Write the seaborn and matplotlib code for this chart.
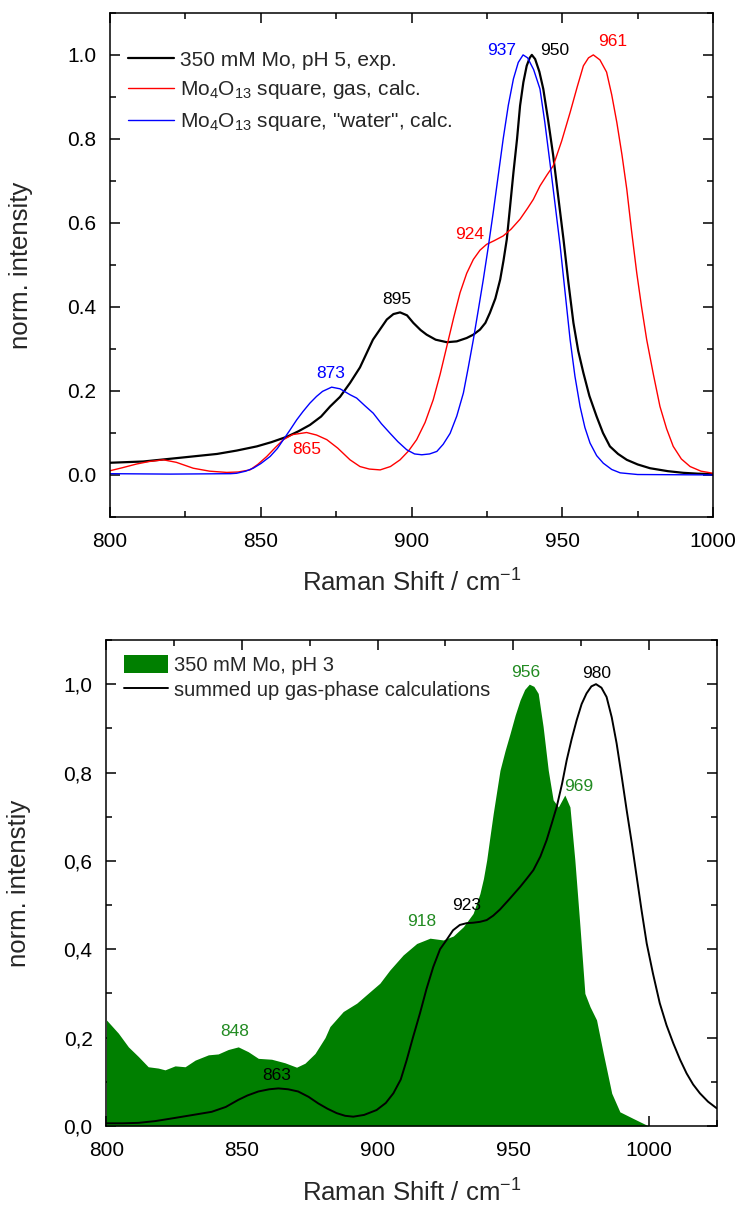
import matplotlib
matplotlib.use("Agg")
import matplotlib.pyplot as plt
from matplotlib.ticker import MultipleLocator, FuncFormatter
import pandas as pd
import seaborn as sns

# --- top panel: pH 5 experiment vs. Mo4O13 calculations ---
exp5_x = [800, 811, 822, 835.5, 842, 848.7, 853.5, 858.7, 862.5, 866.3, 870, 873, 876.3, 879.6,
          882.9, 887.2, 891.8, 894, 896.2, 898.5, 900.6, 903, 905, 908, 911.7, 915, 918.3, 920.5,
          922.7, 924.5, 926, 927.8, 929.4, 930.5, 931.6, 932.7, 933.8, 935, 936, 937.1, 938.2,
          939.2, 939.9, 941, 942.4, 943.7, 945.3, 947, 948.7, 950.4, 952, 953.7, 955.3, 957, 959,
          961.4, 963.5, 965.8, 968.5, 971.4, 975, 979.1, 985, 990.2, 995, 1000]
exp5_y = [0.029, 0.032, 0.040, 0.050, 0.058, 0.068, 0.078, 0.091, 0.104, 0.119, 0.139, 0.163, 0.186,
          0.219, 0.256, 0.322, 0.370, 0.383, 0.387, 0.380, 0.362, 0.345, 0.334, 0.322, 0.316, 0.318,
          0.326, 0.334, 0.346, 0.362, 0.386, 0.420, 0.465, 0.510, 0.561, 0.640, 0.720, 0.800, 0.879,
          0.935, 0.974, 0.993, 1.0, 0.990, 0.960, 0.919, 0.845, 0.760, 0.660, 0.561, 0.460, 0.362,
          0.295, 0.243, 0.188, 0.139, 0.100, 0.068, 0.050, 0.036, 0.025, 0.016, 0.009, 0.005, 0.003,
          0.002]

water_x = [800, 820, 840, 842, 845, 847.5, 850, 853.1, 855.5, 857.5, 859.7, 861.9, 864, 866.3, 868.5,
           870.5, 873.5, 876.3, 879.6, 881.8, 884.5, 887.3, 890, 892.9, 895.5, 898.4, 901, 903.4, 906,
           908.4, 910.5, 912.8, 915, 917.2, 918.8, 920.5, 922.2, 923.8, 925.5, 927.1, 928.8, 930.4,
           932.1, 933.8, 935.4, 937, 938.5, 940.5, 942.6, 944.2, 945.9, 947.6, 949.3, 951, 952.6,
           954.2, 955.9, 957.5, 959.2, 961.4, 963.6, 966.4, 969.2, 975, 1000]
water_y = [0.003, 0.002, 0.003, 0.004, 0.009, 0.016, 0.027, 0.044, 0.063, 0.084, 0.107, 0.131, 0.151,
           0.171, 0.187, 0.199, 0.209, 0.205, 0.191, 0.183, 0.165, 0.147, 0.122, 0.099, 0.079, 0.060,
           0.050, 0.048, 0.050, 0.056, 0.073, 0.099, 0.140, 0.195, 0.255, 0.322, 0.395, 0.465, 0.545,
           0.625, 0.715, 0.800, 0.880, 0.943, 0.982, 1.0, 0.993, 0.965, 0.919, 0.840, 0.744, 0.645,
           0.545, 0.430, 0.322, 0.235, 0.163, 0.113, 0.076, 0.046, 0.028, 0.013, 0.005, 0.001, 0.0]

gas_x = [800, 804, 808.8, 813, 817.7, 822, 827.6, 833, 838.7, 842.5, 846.4, 849, 852, 854.8, 857.5,
         860.5, 865.2, 868.5, 871.9, 875.5, 879.6, 882.9, 886, 889.6, 893, 896.2, 899, 901.7, 904.5,
         907.2, 909.5, 911.7, 914, 916.1, 918.3, 920.5, 922.7, 924.9, 927.5, 930.4, 933, 936, 938.5,
         940.4, 942.6, 945, 947, 949.8, 952.6, 955, 957, 958.7, 960.3, 962.5, 964.7, 966.4, 968.1,
         969.8, 971.4, 973, 974.7, 976.3, 978, 980.2, 982.4, 984.6, 986.8, 989.5, 992.4, 996, 1000]
gas_y = [0.010, 0.017, 0.026, 0.032, 0.036, 0.030, 0.016, 0.009, 0.006, 0.007, 0.012, 0.025, 0.044,
         0.065, 0.084, 0.096, 0.101, 0.095, 0.084, 0.064, 0.036, 0.020, 0.014, 0.012, 0.020, 0.036,
         0.057, 0.084, 0.125, 0.179, 0.240, 0.306, 0.375, 0.434, 0.480, 0.513, 0.535, 0.549, 0.558,
         0.569, 0.585, 0.609, 0.635, 0.656, 0.688, 0.715, 0.736, 0.795, 0.863, 0.925, 0.974, 0.993,
         1.0, 0.988, 0.959, 0.905, 0.839, 0.762, 0.680, 0.580, 0.481, 0.400, 0.322, 0.240, 0.163,
         0.110, 0.068, 0.038, 0.020, 0.009, 0.004]

top_peaks = ["937", "950", "961", "924", "895", "873", "865"]
top_peak_x = [930.0, 947.6, 966.8, 919.3, 895.1, 873.2, 865.2]
top_peak_y = [1.010, 1.010, 1.031, 0.573, 0.418, 0.241, 0.060]
top_peak_c = ["#0000ff", "black", "#ff0000", "#ff0000", "black", "#0000ff", "#ff0000"]

# --- bottom panel: pH 3 experiment vs. summed gas-phase calculations ---
exp3_x = [800, 804.4, 808.1, 811.8, 815.4, 819.1, 821.6, 825.3, 829, 832.7, 837.6, 841.2, 844.9,
          848.6, 852.3, 856, 860.9, 865.8, 870.1, 873.2, 876.9, 880.6, 882.4, 887.3, 892.3, 897.2,
          900.8, 904.5, 909.4, 914.4, 919.3, 924.2, 927.9, 931.6, 935.2, 937.7, 939, 940.2, 941.4,
          942.6, 945.1, 947, 948.8, 950.7, 952.5, 954.2, 955.9, 957.6, 959.2, 961, 962.9, 964.7,
          966.6, 969, 970.9, 972.7, 974.6, 976.4, 978.3, 980.7, 983.2, 986.3, 989.3, 994.2, 999.2,
          1000]
exp3_y = [0.240, 0.210, 0.179, 0.157, 0.134, 0.131, 0.127, 0.136, 0.134, 0.149, 0.161, 0.163, 0.173,
          0.179, 0.168, 0.153, 0.151, 0.143, 0.133, 0.142, 0.164, 0.200, 0.225, 0.259, 0.278, 0.304,
          0.323, 0.353, 0.387, 0.413, 0.425, 0.421, 0.430, 0.451, 0.481, 0.526, 0.560, 0.602, 0.655,
          0.707, 0.805, 0.850, 0.888, 0.930, 0.964, 0.988, 1.0, 0.995, 0.979, 0.904, 0.805, 0.738,
          0.722, 0.749, 0.722, 0.602, 0.451, 0.300, 0.270, 0.240, 0.164, 0.074, 0.032, 0.017, 0.002,
          0.0]

sum_x = [800, 806, 811.8, 818, 824.1, 831, 838.8, 844, 848.6, 852, 856, 860, 863.4, 867, 870.7, 874.5,
         878.1, 881.5, 884.9, 888, 891, 895, 899.6, 903, 905.8, 908.5, 910.7, 913, 915.6, 918, 920.5,
         923, 925.4, 927.8, 930.3, 932.8, 935.2, 937.7, 940.2, 942.6, 945.1, 948.5, 952.5, 955,
         957.4, 960, 962.3, 964.2, 966, 968, 969.7, 971.5, 973.4, 975.2, 977, 978.8, 980.5, 982.5,
         984.4, 986.3, 988.1, 990, 991.8, 993.7, 995.5, 997.3, 999.2, 1001.5, 1004, 1006.5, 1009,
         1011.5, 1013.9, 1016.3, 1018.8, 1021.8, 1025]
sum_y = [0.006, 0.006, 0.007, 0.011, 0.017, 0.024, 0.032, 0.043, 0.059, 0.069, 0.078, 0.083, 0.085,
         0.083, 0.078, 0.066, 0.051, 0.039, 0.029, 0.023, 0.021, 0.025, 0.036, 0.052, 0.074, 0.105,
         0.149, 0.200, 0.255, 0.310, 0.360, 0.400, 0.421, 0.443, 0.455, 0.459, 0.460, 0.462, 0.466,
         0.476, 0.490, 0.513, 0.541, 0.560, 0.579, 0.610, 0.647, 0.685, 0.722, 0.775, 0.828, 0.875,
         0.919, 0.955, 0.979, 0.995, 1.0, 0.992, 0.971, 0.925, 0.866, 0.790, 0.715, 0.640, 0.564,
         0.488, 0.413, 0.345, 0.278, 0.228, 0.187, 0.150, 0.119, 0.094, 0.074, 0.055, 0.040]

bot_peaks = ["956", "980", "969", "918", "923", "848", "863"]
bot_peak_x = [954.7, 980.7, 974.2, 916.2, 932.8, 847.2, 862.8]
bot_peak_y = [1.026, 1.023, 0.769, 0.462, 0.498, 0.213, 0.114]
bot_peak_c = ["forestgreen", "black", "forestgreen", "forestgreen", "black", "forestgreen", "black"]

sns.set_style("ticks")
plt.rcParams["font.family"] = ["Liberation Sans", "DejaVu Sans"]
plt.rcParams["mathtext.fontset"] = "custom"
plt.rcParams["mathtext.rm"] = "Liberation Sans"
plt.rcParams["mathtext.it"] = "Liberation Sans:italic"
plt.rcParams["mathtext.default"] = "regular"
plt.rcParams["axes.linewidth"] = 1.1

fig = plt.figure(figsize=(7.35, 12.05), dpi=100)
ax1 = fig.add_axes([0.1497, 0.5710, 0.8204, 0.4183])
ax2 = fig.add_axes([0.1448, 0.0656, 0.8303, 0.4033])


def style_axes(ax):
    ax.xaxis.set_major_locator(MultipleLocator(50))
    ax.xaxis.set_minor_locator(MultipleLocator(25))
    ax.yaxis.set_major_locator(MultipleLocator(0.2))
    ax.yaxis.set_minor_locator(MultipleLocator(0.1))
    ax.tick_params(which="both", direction="in", top=True, right=True, width=1.1,
                   labelsize=15, colors="black")
    ax.tick_params(which="major", length=7)
    ax.tick_params(which="minor", length=4)
    ax.tick_params(axis="x", pad=11)
    ax.tick_params(axis="y", pad=10)
    for sp in ax.spines.values():
        sp.set_visible(True)
        sp.set_color("black")


# top panel
df_exp5 = pd.DataFrame({"x": exp5_x, "y": exp5_y})
df_gas = pd.DataFrame({"x": gas_x, "y": gas_y})
df_water = pd.DataFrame({"x": water_x, "y": water_y})
sns.lineplot(data=df_exp5, x="x", y="y", ax=ax1, color="black", lw=1.6,
             estimator=None, sort=False, label="350 mM Mo, pH 5, exp.")
sns.lineplot(data=df_gas, x="x", y="y", ax=ax1, color="#ff0000", lw=1.0,
             estimator=None, sort=False, label="Mo$_4$O$_{13}$ square, gas, calc.")
sns.lineplot(data=df_water, x="x", y="y", ax=ax1, color="#0000ff", lw=1.0,
             estimator=None, sort=False, label='Mo$_4$O$_{13}$ square, "water", calc.')
ax1.set_xlim(800, 1000)
ax1.set_ylim(-0.1, 1.1)
style_axes(ax1)
for t, x, y, c in zip(top_peaks, top_peak_x, top_peak_y, top_peak_c):
    ax1.text(x, y, t, color=c, fontsize=12.5, ha="center", va="center")
ax1.legend(loc="upper left", bbox_to_anchor=(0.03, 0.925), frameon=False, fontsize=15,
           handlelength=2.2, handletextpad=0.3, labelspacing=0.42, borderpad=0, borderaxespad=0)
ax1.set_xlabel("Raman Shift / cm$^{-1}$", fontsize=18.5)
ax1.set_ylabel("norm. intensity", fontsize=18.5)
ax1.xaxis.set_label_coords(0.5, -0.105)
ax1.yaxis.set_label_coords(-0.128, 0.5)

# bottom panel
df_exp3 = pd.DataFrame({"x": exp3_x, "y": exp3_y})
df_sum = pd.DataFrame({"x": sum_x, "y": sum_y})
ax2.fill_between(df_exp3["x"], 0, df_exp3["y"], color="#007f00", lw=0,
                 label="350 mM Mo, pH 3")
sns.lineplot(data=df_sum, x="x", y="y", ax=ax2, color="black", lw=1.4,
             estimator=None, sort=False, label="summed up gas-phase calculations")
ax2.set_xlim(800, 1025)
ax2.set_ylim(0, 1.1)
style_axes(ax2)
ax2.yaxis.set_major_formatter(FuncFormatter(lambda v, p: f"{v:.1f}".replace(".", ",")))
for t, x, y, c in zip(bot_peaks, bot_peak_x, bot_peak_y, bot_peak_c):
    ax2.text(x, y, t, color=c, fontsize=12.5, ha="center", va="center")
h, l = ax2.get_legend_handles_labels()
ax2.legend(h, l, loc="upper left", bbox_to_anchor=(0.029, 0.97), frameon=False, fontsize=14.5,
           handlelength=2.2, handleheight=1.05, handletextpad=0.3, labelspacing=0.25,
           borderpad=0, borderaxespad=0)
ax2.set_xlabel("Raman Shift / cm$^{-1}$", fontsize=18.5)
ax2.set_ylabel("norm. intenstiy", fontsize=18.5)
ax2.xaxis.set_label_coords(0.5, -0.11)
ax2.yaxis.set_label_coords(-0.124, 0.5)

fig.savefig("out.png", dpi=100)
